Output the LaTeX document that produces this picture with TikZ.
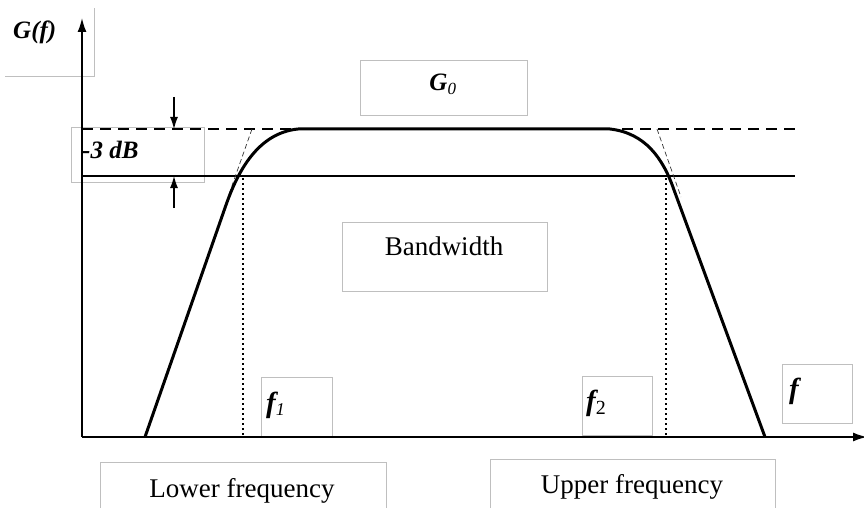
\documentclass[tikz,border=0pt]{standalone}
\usepackage{fontspec}
\setmainfont{Liberation Serif}
\usetikzlibrary{arrows.meta}
\begin{document}
\begin{tikzpicture}[x=1pt,y=-1pt,
  box/.style={draw=black!25, line width=0.8pt, inner sep=0pt, anchor=north west},
  big/.style={font=\fontsize{27}{30}\selectfont, inner sep=0pt},
  sym/.style={font=\fontsize{25}{28}\selectfont\bfseries\itshape, inner sep=0pt},
  fsym/.style={font=\fontsize{29}{32}\selectfont\bfseries\itshape, inner sep=0pt},
  axisline/.style={line width=1.6pt, -{Latex[length=14pt,width=9pt]}},
  resp/.style={line width=3pt, line join=round},
  refdash/.style={line width=1.6pt, dash pattern=on 11pt off 7pt},
  refline/.style={line width=1.8pt},
  asym/.style={line width=0.7pt, dash pattern=on 5pt off 3pt, black!80},
  marker/.style={line width=1.8pt, dash pattern=on 1.6pt off 3.4pt},
  dimarrow/.style={line width=1.2pt, -{Latex[length=12pt,width=8pt]}}
]
\useasboundingbox (0,0) rectangle (864,508);

% gray label boxes
\draw[black!25, line width=0.8pt] (5,76) -- (94,76) -- (94,8);
\node[box, minimum width=133pt, minimum height=55pt] (dbbox) at (71,127) {};
\node[box, minimum width=167pt, minimum height=55pt] (gobox) at (360,60) {};
\node[box, minimum width=205pt, minimum height=69pt] (bwbox) at (342,222) {};
\node[box, minimum width=71pt, minimum height=59pt] (fonebox) at (261,377) {};
\node[box, minimum width=70pt, minimum height=59pt] (ftwobox) at (582,376) {};
\node[box, minimum width=70pt, minimum height=59pt] (fbox) at (782,364) {};
\node[box, minimum width=286pt, minimum height=70pt] (lowbox) at (100,462) {};
\node[box, minimum width=285pt, minimum height=70pt] (upbox) at (490,459) {};

% axes
\coordinate (O) at (82,437);
\coordinate (ytip) at (82,18);
\coordinate (xtip) at (867,437);
\draw[axisline] (O) -- (ytip);
\draw[axisline] (O) -- (xtip);

% reference lines
\coordinate (dl) at (82,129);
\coordinate (dr) at (795,129);
\coordinate (sl) at (82,176);
\coordinate (sr) at (795,176);
\draw[refdash] (dl) -- (dr);
\draw[refline] (sl) -- (sr);

% asymptotes
\coordinate (a1) at (252,129);
\coordinate (a2) at (228,197);
\coordinate (a3) at (657,129);
\coordinate (a4) at (681,197);
\draw[asym] (a1) -- (a2);
\draw[asym] (a3) -- (a4);

% cutoff markers
\coordinate (m1t) at (243,178);
\coordinate (m1b) at (243,436);
\coordinate (m2t) at (666,178);
\coordinate (m2b) at (666,436);
\draw[marker] (m1t) -- (m1b);
\draw[marker] (m2t) -- (m2b);

% response curve
\coordinate (c0) at (145,437);
\coordinate (c1) at (226,205);
\coordinate (c2) at (298,129);
\coordinate (c3) at (610,129);
\coordinate (c4) at (674,190);
\coordinate (c5) at (765,437);
\draw[resp] (c0) -- (c1) .. controls (238,171) and (258,133) .. (c2)
  -- (c3) .. controls (645,133) and (663,158) .. (c4) -- (c5);

% -3 dB arrows
\coordinate (u0) at (174,97);
\coordinate (u1) at (174,129);
\coordinate (v0) at (174,208);
\coordinate (v1) at (174,176);
\draw[dimarrow] (u0) -- (u1);
\draw[dimarrow] (v0) -- (v1);

% labels
\node[sym, anchor=base west] (gf) at (13,39) {G(f)};
\node[sym, anchor=base west] (db) at (82,158) {-3 dB};
\node[sym, anchor=base] (go) at (443,91) {G\textsubscript{\fontsize{17}{18}\selectfont\mdseries 0}};
\node[big, anchor=base] (bw) at (444,255) {Bandwidth};
\node[fsym, anchor=base west] (fone) at (266,412) {f\textsubscript{\fontsize{18}{18}\selectfont\mdseries 1}};
\node[fsym, anchor=base west] (ftwo) at (586,410) {f\textsubscript{\fontsize{20}{20}\selectfont\mdseries\upshape 2}};
\node[fsym, anchor=base west] (f) at (789,398) {f};
\node[big, anchor=base] (low) at (242,497) {Lower frequency};
\node[big, anchor=base] (up) at (632,493) {Upper frequency};
\end{tikzpicture}
\end{document}
